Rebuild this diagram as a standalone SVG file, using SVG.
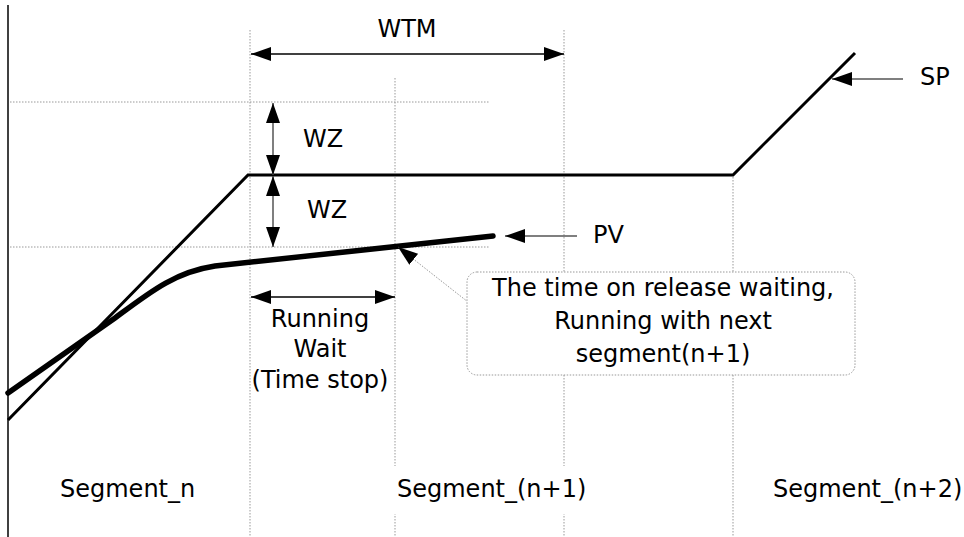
<svg xmlns="http://www.w3.org/2000/svg" width="964" height="537" viewBox="0 0 964 537">
<style>
text{font-family:"DejaVu Sans","Liberation Sans",sans-serif;font-size:24px;fill:#000}
.grid{stroke:#999;stroke-width:1;stroke-dasharray:1.5 1.5;fill:none}
.dim{stroke:#000;stroke-width:1.5;fill:none}
.dimg{stroke:#555;stroke-width:1.5;fill:none}
.mid{text-anchor:middle}
</style>
<defs>
<marker id="ah" markerUnits="userSpaceOnUse" markerWidth="22" markerHeight="16" refX="20" refY="7" orient="auto-start-reverse" viewBox="0 0 22 16">
<path d="M0,0 L20,7 L0,14 z" fill="#000" stroke="none"/>
</marker>
</defs>
<g id="grid">
<line x1="8" y1="5" x2="8" y2="537" stroke="#000" stroke-width="1.5"/>
<line class="grid" x1="250" y1="30" x2="250" y2="537"/>
<line class="grid" x1="395" y1="78" x2="395" y2="537"/>
<line class="grid" x1="564" y1="30" x2="564" y2="537"/>
<line class="grid" x1="733" y1="177" x2="733" y2="537"/>
<line class="grid" x1="10" y1="102" x2="490" y2="102"/>
<line class="grid" x1="10" y1="247" x2="490" y2="247"/>
</g>
<g id="sp-curve">
<path d="M8,420 L248,175 L733,175 L855,53" fill="none" stroke="#000" stroke-width="3"/>
</g>
<g id="pv-curve">
<path d="M8,393 L115,318 C150,292 175,272 215,266 L493,236" fill="none" stroke="#000" stroke-width="5.5" stroke-linecap="round"/>
</g>
<g id="connectors">
<line class="dim" x1="251" y1="54" x2="564" y2="54" marker-start="url(#ah)" marker-end="url(#ah)"/>
<line class="dimg" x1="273" y1="103" x2="273" y2="175" marker-start="url(#ah)" marker-end="url(#ah)"/>
<line class="dimg" x1="273" y1="176" x2="273" y2="247" marker-start="url(#ah)" marker-end="url(#ah)"/>
<line class="dim" x1="251" y1="297" x2="395" y2="297" marker-start="url(#ah)" marker-end="url(#ah)"/>
<line class="dimg" x1="903" y1="79" x2="832" y2="79" marker-end="url(#ah)"/>
<line class="dimg" x1="577" y1="236" x2="505" y2="236" marker-end="url(#ah)"/>
<line x1="468" y1="302" x2="398" y2="247" stroke="#999" stroke-width="1" stroke-dasharray="1.5 1.5" marker-end="url(#ah)"/>
</g>
<g id="callout">
<rect x="467" y="272" width="388" height="103" rx="10" fill="#fff" stroke="#999" stroke-width="1" stroke-dasharray="1.5 1.5"/>
<text class="mid" x="663" y="296">The time on release waiting,</text>
<text class="mid" x="663" y="329">Running with next</text>
<text class="mid" x="663" y="362">segment(n+1)</text>
</g>
<g id="labels">
<text class="mid" x="407" y="37">WTM</text>
<text x="303" y="147">WZ</text>
<text x="307" y="218">WZ</text>
<text x="920" y="85">SP</text>
<text x="593" y="243">PV</text>
<text class="mid" x="320" y="327">Running</text>
<text class="mid" x="320" y="357">Wait</text>
<text class="mid" x="320" y="388">(Time stop)</text>
</g>
<g id="segments">
<text x="60" y="497">Segment_n</text>
<rect x="391" y="466" width="200" height="48" fill="#fff"/>
<text x="397" y="497">Segment_(n+1)</text>
<text x="773" y="497">Segment_(n+2)</text>
</g>
</svg>
